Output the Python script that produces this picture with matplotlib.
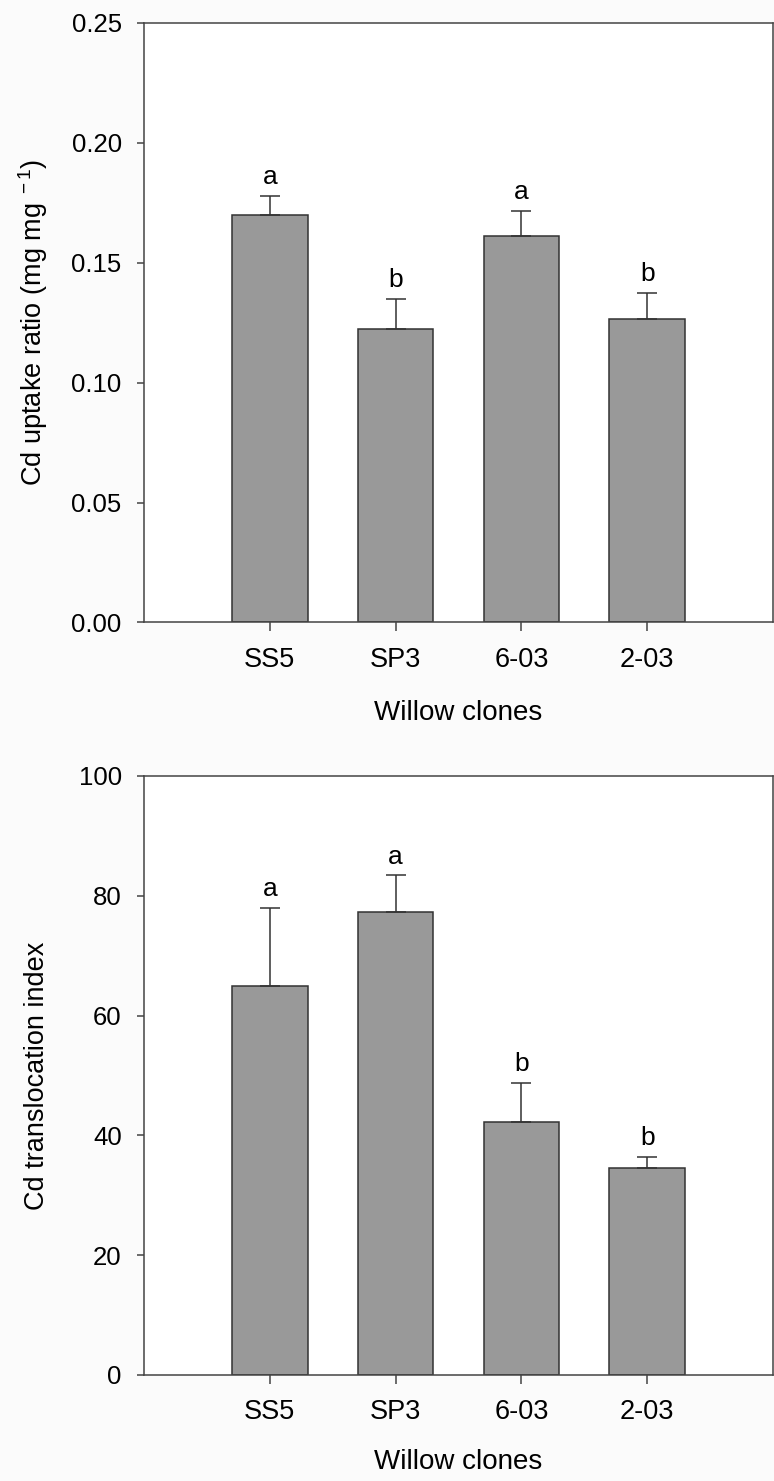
import matplotlib
matplotlib.use('Agg')
import matplotlib.pyplot as plt
import numpy as np

plt.rcParams['font.family'] = ['Liberation Sans', 'DejaVu Sans']
plt.rcParams['font.size'] = 19
plt.rcParams['mathtext.fontset'] = 'custom'
plt.rcParams['mathtext.rm'] = 'Liberation Sans'
plt.rcParams['mathtext.it'] = 'Liberation Sans'

clones = ['SS5', 'SP3', '6-03', '2-03']

uptake = [0.170, 0.1225, 0.161, 0.1266]
uptake_se = [0.0079, 0.0125, 0.0107, 0.0109]
uptake_letters = ['a', 'b', 'a', 'b']

transloc = [65.0, 77.3, 42.3, 34.5]
transloc_se = [12.9, 6.1, 6.5, 1.9]
transloc_letters = ['a', 'a', 'b', 'b']

bar_col = '#999999'
line_col = '#333333'
spine_col = '#444444'

fig = plt.figure(figsize=(7.74, 14.81), dpi=100, facecolor='#fbfbfb')
ax0 = fig.add_axes([0.186, 0.5797, 0.8127, 0.405])
ax1 = fig.add_axes([0.186, 0.0716, 0.8127, 0.4045])


def draw(ax, vals, se, letters, ylim, yticks, fmt, ylabel, xlab_y):
    x = np.arange(len(clones))
    ax.set_facecolor('white')
    ax.bar(x, vals, width=0.6, color=bar_col, edgecolor=line_col,
           linewidth=1.1, zorder=2)
    ax.errorbar(x, vals, yerr=[np.zeros(len(vals)), se], fmt='none',
                ecolor=line_col, elinewidth=1.1, capsize=7.5, capthick=1.1,
                zorder=3)
    for xi, v, e, lab in zip(x, vals, se, letters):
        ax.annotate(lab, (xi, v + e), xytext=(0, 8.5), textcoords='offset points',
                    ha='center', va='baseline', fontsize=19)
    ax.set_xlim(-1, 4)
    ax.set_ylim(*ylim)
    ax.set_yticks(yticks)
    ax.set_yticklabels([fmt % t for t in yticks], fontsize=18.5)
    ax.set_xticks(x)
    ax.set_xticklabels(clones, fontsize=19.5)
    ax.tick_params(axis='y', direction='out', length=5, width=1.1,
                   color=spine_col, pad=11)
    ax.tick_params(axis='x', direction='out', length=6.5, width=1.1,
                   color=spine_col, pad=11)
    for s in ax.spines.values():
        s.set_color(spine_col)
        s.set_linewidth(1.1)
    ax.set_ylabel(ylabel, fontsize=19.5)
    ax.yaxis.set_label_coords(-0.15, 0.5)
    ax.set_xlabel('Willow clones', va='top', fontsize=20)
    ax.xaxis.set_label_coords(0.5, xlab_y)


draw(ax0, uptake, uptake_se, uptake_letters, (0, 0.25),
     [0, 0.05, 0.10, 0.15, 0.20, 0.25], '%.2f',
     r'Cd uptake ratio (mg mg$^{\ -1}$)', -0.13)
draw(ax1, transloc, transloc_se, transloc_letters, (0, 100),
     [0, 20, 40, 60, 80, 100], '%d',
     'Cd translocation index', -0.124)

fig.savefig('out.png', dpi=100, facecolor=fig.get_facecolor())
